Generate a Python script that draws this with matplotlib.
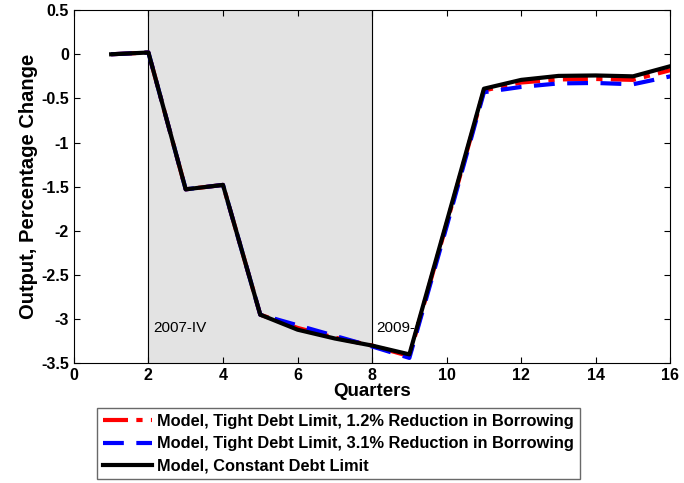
import numpy as np
import matplotlib
matplotlib.use('Agg')
from matplotlib import pyplot as plt

plt.rcParams['font.family'] = ['Liberation Sans', 'DejaVu Sans']
plt.rcParams['font.weight'] = 'bold'

# data
quarters = np.arange(1, 17)
tight_12 = [0.0, 0.02, -1.53, -1.48, -2.95, -3.10, -3.21, -3.30, -3.42, -1.92,
            -0.41, -0.32, -0.285, -0.28, -0.29, -0.18]
tight_31 = [0.0, 0.02, -1.53, -1.48, -2.95, -3.07, -3.19, -3.31, -3.44, -1.95,
            -0.43, -0.37, -0.33, -0.325, -0.34, -0.25]
constant = [0.0, 0.02, -1.53, -1.48, -2.95, -3.12, -3.22, -3.30, -3.40, -1.90,
            -0.39, -0.29, -0.245, -0.24, -0.25, -0.135]
labels = ['Model, Tight Debt Limit, 1.2% Reduction in Borrowing',
          'Model, Tight Debt Limit, 3.1% Reduction in Borrowing',
          'Model, Constant Debt Limit']
recession = (2, 8)
recession_labels = ['2007-IV', '2009-I']

fig = plt.figure(figsize=(6.84, 4.83), dpi=100)
ax = fig.add_axes([0.108, 0.248, 0.872, 0.731])

# shaded recession window
ax.axvspan(recession[0], recession[1], color='#e3e3e3', zorder=0)
ax.axvline(recession[0], color='black', linewidth=0.8, zorder=1)
ax.axvline(recession[1], color='black', linewidth=0.8, zorder=1)
ax.text(recession[0] + 0.12, -3.1, recession_labels[0], fontsize=11, fontweight='normal', va='center')
ax.text(recession[1] + 0.12, -3.1, recession_labels[1], fontsize=11, fontweight='normal', va='center')

ax.plot(quarters, tight_12, color='red', linestyle=(0, (6, 2, 1.5, 2)), linewidth=3, label=labels[0], zorder=3)
ax.plot(quarters, tight_31, color='blue', linestyle=(0, (5, 3)), linewidth=3, label=labels[1], zorder=3)
ax.plot(quarters, constant, color='black', linestyle='-', linewidth=3, label=labels[2], zorder=4)

ax.set_xlim(0, 16)
ax.set_ylim(-3.5, 0.5)
ax.set_xticks(np.arange(0, 17, 2))
ax.set_yticks(np.arange(-3.5, 0.51, 0.5))
ax.set_yticklabels(['-3.5', '-3', '-2.5', '-2', '-1.5', '-1', '-0.5', '0', '0.5'])
ax.tick_params(direction='in', top=True, right=True, labelsize=11.5, length=4)
ax.set_xlabel('Quarters', fontsize=13.5, fontweight='bold', labelpad=0)
ax.set_ylabel('Output, Percentage Change', fontsize=14.5, fontweight='bold', labelpad=2)

leg = fig.legend(loc='upper center', bbox_to_anchor=(0.495, 0.155), fontsize=11.8,
                 frameon=True, fancybox=False, edgecolor='#444444', handlelength=3,
                 borderpad=0.35, labelspacing=0.45, handletextpad=0.3, borderaxespad=0)
leg.get_frame().set_linewidth(1.0)

plt.savefig('out.png', dpi=100)
